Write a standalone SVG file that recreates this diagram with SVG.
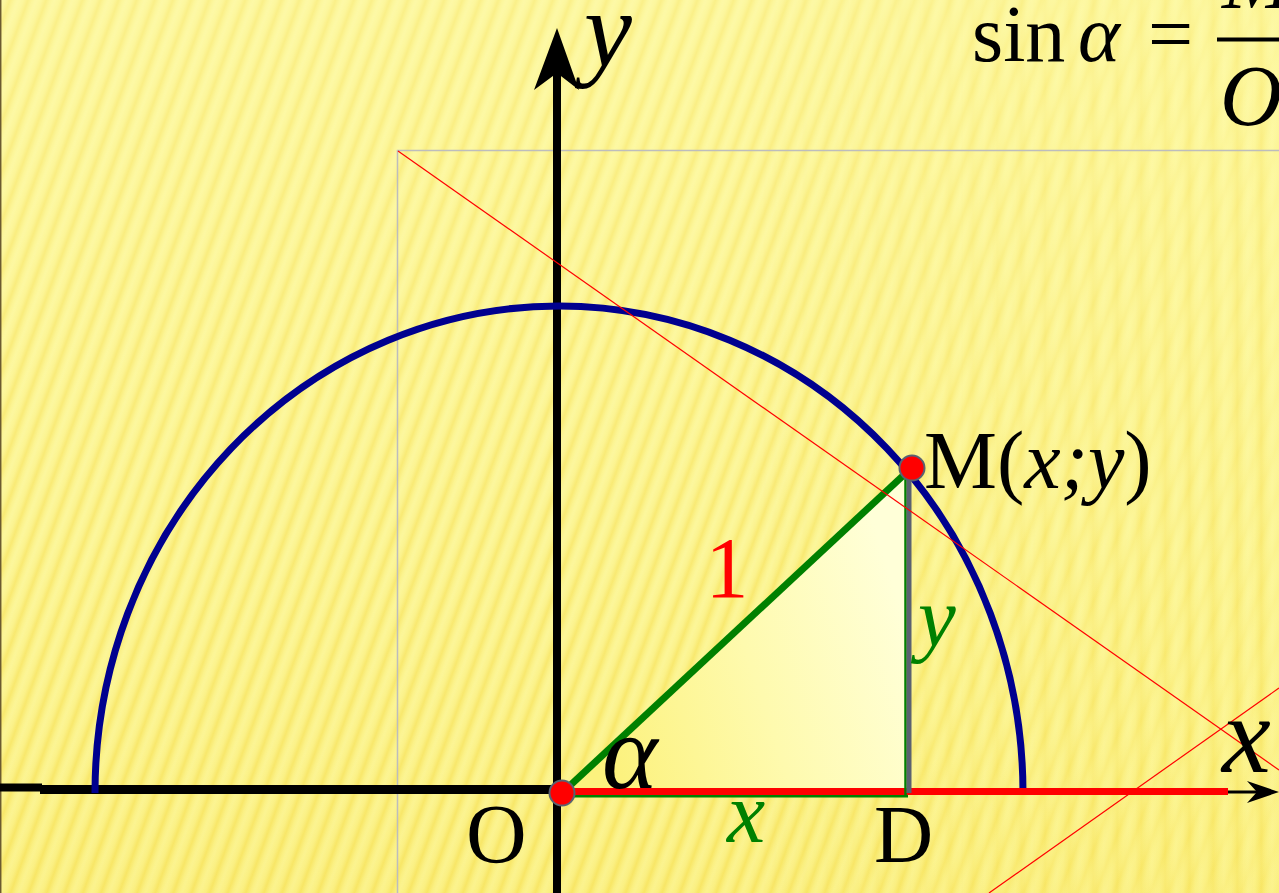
<svg xmlns="http://www.w3.org/2000/svg" width="1279" height="893" viewBox="0 0 1279 893">
<defs>
<linearGradient id="stripeG" x1="0" y1="0" x2="1" y2="0">
<stop offset="0" stop-color="#FCF699"/>
<stop offset="0.3" stop-color="#FBF28A"/>
<stop offset="0.55" stop-color="#F8E76A"/>
<stop offset="0.8" stop-color="#FBF28A"/>
<stop offset="1" stop-color="#FCF699"/>
</linearGradient>
<pattern id="diag" width="17" height="40" patternUnits="userSpaceOnUse" patternTransform="rotate(20)">
<rect x="0" y="0" width="17" height="40" fill="url(#stripeG)"/>
</pattern>
<pattern id="vert" width="24" height="40" patternUnits="userSpaceOnUse">
<rect x="0" y="0" width="24" height="40" fill="url(#stripeG)" opacity="0.8"/>
</pattern>
<linearGradient id="fadeR" x1="0" y1="0" x2="1" y2="0">
<stop offset="0" stop-color="#fff" stop-opacity="0"/>
<stop offset="1" stop-color="#fff" stop-opacity="1"/>
</linearGradient>
<mask id="rightMask" maskUnits="userSpaceOnUse" x="0" y="0" width="1279" height="893">
<rect x="750" y="0" width="529" height="893" fill="url(#fadeR)"/>
</mask>
<linearGradient id="topLight" x1="0" y1="0" x2="0" y2="1">
<stop offset="0" stop-color="#FFFFC0" stop-opacity="0.35"/>
<stop offset="0.6" stop-color="#FFFFC0" stop-opacity="0.1"/>
<stop offset="1" stop-color="#F5DC40" stop-opacity="0.12"/>
</linearGradient>
<linearGradient id="triG" x1="600" y1="720" x2="906" y2="620" gradientUnits="userSpaceOnUse">
<stop offset="0" stop-color="#FCF27E"/>
<stop offset="0.5" stop-color="#FEFAAE"/>
<stop offset="1" stop-color="#FFFFD8"/>
</linearGradient>
<style>
.serif{font-family:"Liberation Serif","Times New Roman",serif;}
.it{font-style:italic;}
.thin{fill:none;stroke:#FF0000;stroke-width:1.2;}
.frame{fill:none;stroke:#BDBDBD;stroke-width:1.5;}
.pt{fill:#FF0000;stroke:#5A6170;stroke-width:2;}
</style>
</defs>

<g id="background">
<rect width="1279" height="893" fill="url(#diag)"/>
<rect width="1279" height="893" fill="url(#vert)" mask="url(#rightMask)"/>
<rect width="1279" height="893" fill="url(#topLight)"/>
<line x1="0.7" y1="0" x2="0.7" y2="893" stroke="#6B5A30" stroke-width="1.5"/>
</g>

<g id="frame">
<polyline class="frame" points="397.5,893 397.5,150.5 1279,150.5"/>
</g>

<g id="triangle">
<polygon points="562,793 906,473 906,793" fill="url(#triG)"/>
</g>

<g id="connectors">
<line id="axis-y" x1="557" y1="893" x2="557" y2="72" stroke="#000" stroke-width="8"/>
<polygon points="557,28 579,90 557,73 534,90" fill="#000"/>
<line x1="0" y1="787.5" x2="42" y2="787.5" stroke="#000" stroke-width="8"/>
<line id="axis-x" x1="40" y1="789.5" x2="562" y2="789.5" stroke="#000" stroke-width="9"/>
<line x1="1225" y1="792" x2="1258" y2="792" stroke="#000" stroke-width="3"/>
<polygon points="1279,792 1247,781 1257,792 1247,803" fill="#000"/>
<path id="arc" d="M 95 793 A 464 487 0 0 1 1023 793" fill="none" stroke="#00008F" stroke-width="7"/>
<line x1="562" y1="796" x2="908" y2="796" stroke="#008000" stroke-width="3"/>
<line x1="562" y1="791.5" x2="1228" y2="791.5" stroke="#FF0000" stroke-width="7"/>
<line x1="905.5" y1="478" x2="905.5" y2="797" stroke="#008000" stroke-width="2.5"/>
<line x1="909" y1="470" x2="909" y2="793" stroke="#5A6170" stroke-width="5"/>
<line id="hyp" x1="562" y1="793" x2="907" y2="472" stroke="#008000" stroke-width="7"/>
<line class="thin" x1="398" y1="151" x2="1279" y2="770"/>
<line class="thin" x1="989" y1="893" x2="1279" y2="688"/>
</g>

<g id="point-O">
<circle class="pt" cx="562" cy="793" r="12.5"/>
<text class="serif" x="466" y="863" font-size="84">O</text>
</g>

<g id="point-M">
<circle class="pt" cx="912" cy="468" r="12.5"/>
<text class="serif" x="924" y="488" font-size="82">M(<tspan class="it">x</tspan><tspan class="it">;</tspan><tspan class="it">y</tspan>)</text>
</g>

<g id="point-D">
<text class="serif" x="874" y="862" font-size="82">D</text>
</g>

<g id="labels">
<text class="serif it" x="584" y="66" font-size="108">y</text>
<text class="serif it" x="1222" y="772" font-size="110">x</text>
<text class="serif it" x="602" y="788" font-size="106">α</text>
<text class="serif" x="727" y="597" font-size="86" fill="#FF0000" text-anchor="middle">1</text>
<text class="serif it" x="727" y="842" font-size="86" fill="#008000">x</text>
<text class="serif it" x="918" y="646" font-size="85" fill="#008000">y</text>
</g>

<g id="formula">
<text class="serif" x="972" y="61" font-size="80">sin</text>
<text class="serif it" x="1078" y="61" font-size="80">α</text>
<text class="serif" x="1148" y="61" font-size="80">=</text>
<line x1="1217" y1="39.5" x2="1279" y2="39.5" stroke="#000" stroke-width="4"/>
<text class="serif it" x="1222" y="8" font-size="86">M</text>
<text class="serif it" x="1220" y="125" font-size="86">O</text>
</g>
</svg>
